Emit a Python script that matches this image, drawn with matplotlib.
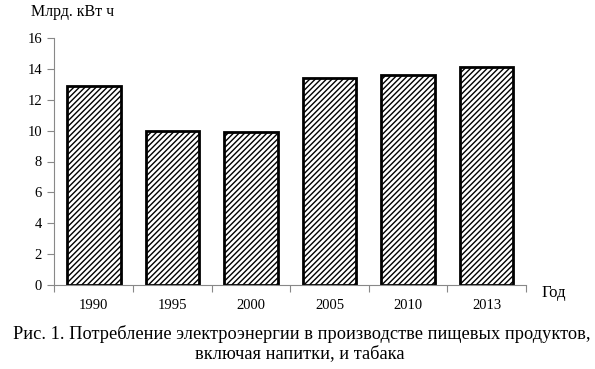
import matplotlib.pyplot as plt

plt.rcParams['font.family'] = ['Liberation Serif', 'DejaVu Serif']
plt.rcParams['hatch.linewidth'] = 1.0

years = ['1990', '1995', '2000', '2005', '2010', '2013']
values = [12.9, 10.0, 9.9, 13.4, 13.6, 14.1]
y_ticks = [0, 2, 4, 6, 8, 10, 12, 14, 16]

fig = plt.figure(figsize=(5.95, 3.69), dpi=100)
ax = fig.add_axes([54.5 / 595, 1 - 285 / 369, (526 - 54.5) / 595, (285 - 38) / 369])

x = range(len(years))
ax.bar(x, values, width=0.68, color='white', edgecolor='black',
       linewidth=2.0, hatch='//////')

ax.set_xlim(-0.5, len(years) - 0.5)
ax.set_ylim(0, 16)
ax.set_yticks(y_ticks)
ax.set_yticklabels([str(v) for v in y_ticks], fontsize=10.5)

# category ticks sit between the bars, labels under the bars
ax.set_xticks([i - 0.5 for i in range(len(years) + 1)])
ax.set_xticklabels([])
ax.set_xticks(list(x), minor=True)
ax.set_xticklabels(years, minor=True, fontsize=10.5)
ax.tick_params(axis='x', which='minor', length=0, pad=10)
ax.tick_params(axis='x', which='major', length=5, color='#888888', direction='out')
ax.tick_params(axis='y', length=5, color='#888888', direction='out', pad=4)

for s in ['top', 'right']:
    ax.spines[s].set_visible(False)
ax.spines['left'].set_color('#888888')
ax.spines['bottom'].set_color('#888888')

fig.text(31 / 595, 1 - 12 / 369, 'Млрд. кВт ч', fontsize=11.5, va='center', ha='left')
fig.text(542 / 595, 1 - 293 / 369, 'Год', fontsize=12, va='center', ha='left')
fig.text(302 / 595, 1 - 334 / 369, 'Рис. 1. Потребление электроэнергии в производстве пищевых продуктов,',
         fontsize=13.2, ha='center', va='center')
fig.text(300 / 595, 1 - 354 / 369, 'включая напитки, и табака', fontsize=13.2, ha='center', va='center')

fig.savefig('out.png', dpi=100)
